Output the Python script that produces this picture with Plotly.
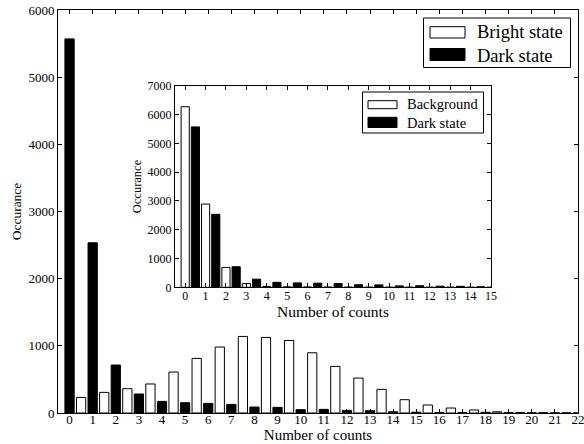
import plotly.graph_objects as go

# ---------------- data ----------------
counts_main = list(range(23))
bright_main = [232, 307, 362, 432, 610, 813, 982, 1140, 1125, 1080, 897, 694,
               520, 352, 198, 119, 74, 45, 18, 8, 5, 3, 2]
dark_main = [5570, 2534, 714, 283, 173, 153, 143, 128, 89, 84, 49, 54,
             39, 34, 18, 12, 8, 6, 10, 6, 3, 2, 1]

counts_inset = list(range(16))
background_inset = [6270, 2890, 690, 130, 30, 15, 10, 8, 5, 5, 3, 3, 2, 2, 2, 2]
dark_inset = [5570, 2534, 714, 283, 173, 153, 143, 128, 89, 84, 49, 54, 39, 34, 18, 12]

main_xticks = list(range(0, 23))
main_yticks = list(range(0, 6001, 1000))
inset_xticks = list(range(0, 16))
inset_yticks = list(range(0, 7001, 1000))

# ---------------- layout geometry (pixels) ----------------
W, H = 584, 444
L, R, T, B = 58, 6, 10, 31
PW, PH = W - L - R, H - T - B

def px(x):
    return (x - L) / PW

def py(y):
    return (H - B - y) / PH

FONT = "Liberation Serif"
BLACK = "black"

fig = go.Figure()

# main chart
fig.add_trace(go.Bar(x=counts_main, y=dark_main, width=0.4, offset=-0.2,
                     marker=dict(color=BLACK, line=dict(color=BLACK, width=1)),
                     name="Dark state", showlegend=False, xaxis="x", yaxis="y"))
fig.add_trace(go.Bar(x=counts_main, y=bright_main, width=0.4, offset=0.3,
                     marker=dict(color="white", line=dict(color=BLACK, width=1)),
                     name="Bright state", showlegend=False, xaxis="x", yaxis="y"))

# inset
fig.add_trace(go.Bar(x=counts_inset, y=background_inset, width=0.4, offset=-0.2,
                     marker=dict(color="white", line=dict(color=BLACK, width=1)),
                     name="Background", showlegend=False, xaxis="x2", yaxis="y2"))
fig.add_trace(go.Bar(x=counts_inset, y=dark_inset, width=0.4, offset=0.3,
                     marker=dict(color=BLACK, line=dict(color=BLACK, width=1)),
                     name="Dark state", showlegend=False, xaxis="x2", yaxis="y2"))

axis_common = dict(showline=True, linecolor=BLACK, linewidth=1, mirror="ticks",
                   ticks="inside", ticklen=4, tickwidth=1, tickcolor=BLACK,
                   showgrid=False, zeroline=False, ticklabeloverflow="allow")

inset_x0, inset_x1 = px(175), px(491)
inset_y0, inset_y1 = py(287.3), py(85.7)

fig.update_layout(
    width=W, height=H,
    margin=dict(l=L, r=R, t=T, b=B, autoexpand=False),
    paper_bgcolor="white", plot_bgcolor="white",
    barmode="overlay",
    font=dict(family=FONT, color=BLACK, size=13),
    xaxis=dict(domain=[0, 1], range=[-0.5, 22.0001], tickmode="array",
               tickvals=main_xticks, tickfont=dict(size=13), ticklabelstandoff=-6,
               title=dict(text="Number of counts", font=dict(size=15), standoff=0),
               anchor="y", **axis_common),
    yaxis=dict(domain=[0, 1], range=[0, 6000], tickmode="array",
               tickvals=main_yticks, tickfont=dict(size=13),
               title=dict(text="Occurance", font=dict(size=13.5), standoff=3),
               anchor="x", **axis_common),
    xaxis2=dict(domain=[inset_x0, inset_x1], range=[-0.5, 15.0001], tickmode="array",
                tickvals=inset_xticks, tickfont=dict(size=12), ticklabelstandoff=-3,
                title=dict(text="Number of counts", font=dict(size=15.5), standoff=0),
                anchor="y2", **axis_common),
    yaxis2=dict(domain=[inset_y0, inset_y1], range=[0, 7000], tickmode="array",
                tickvals=inset_yticks, tickfont=dict(size=12),
                title=dict(text="Occurance", font=dict(size=12.5), standoff=3),
                anchor="x2", **axis_common),
)

# ---------------- custom legends (matplotlib style) ----------------
shapes = []
annotations = []

def legend(box, entries, fsize):
    x0, y0, x1, y1 = box
    shapes.append(dict(type="rect", xref="paper", yref="paper",
                       x0=px(x0), x1=px(x1), y0=py(y1), y1=py(y0),
                       line=dict(color=BLACK, width=1), fillcolor="white",
                       layer="above"))
    for (sx0, sx1, sy0, sy1, fill, label, tx, ty) in entries:
        shapes.append(dict(type="rect", xref="paper", yref="paper",
                           x0=px(sx0), x1=px(sx1), y0=py(sy1), y1=py(sy0),
                           line=dict(color=BLACK, width=1), fillcolor=fill,
                           layer="above"))
        annotations.append(dict(text=label, xref="paper", yref="paper",
                                x=px(tx), y=py(ty), xanchor="left", yanchor="middle",
                                showarrow=False, font=dict(size=fsize, family=FONT)))

legend((423.5, 18, 570.5, 67.5), [
    (430, 465, 26.7, 38, "white", "Bright state", 474.5, 32.3),
    (430, 465, 48.5, 60.5, BLACK, "Dark state", 474.5, 55.5),
], 18.5)

legend((362.5, 92, 483.5, 133), [
    (368, 397, 100.7, 108.7, "white", "Background", 404.5, 104),
    (368, 397, 117.3, 127.5, BLACK, "Dark state", 404.5, 123),
], 14.5)

fig.update_layout(shapes=shapes, annotations=annotations)

fig.write_html("out.html",
               config={"displayModeBar": False},
               post_script="document.body.style.margin='0px';"
                           "document.body.style.overflow='hidden';")
